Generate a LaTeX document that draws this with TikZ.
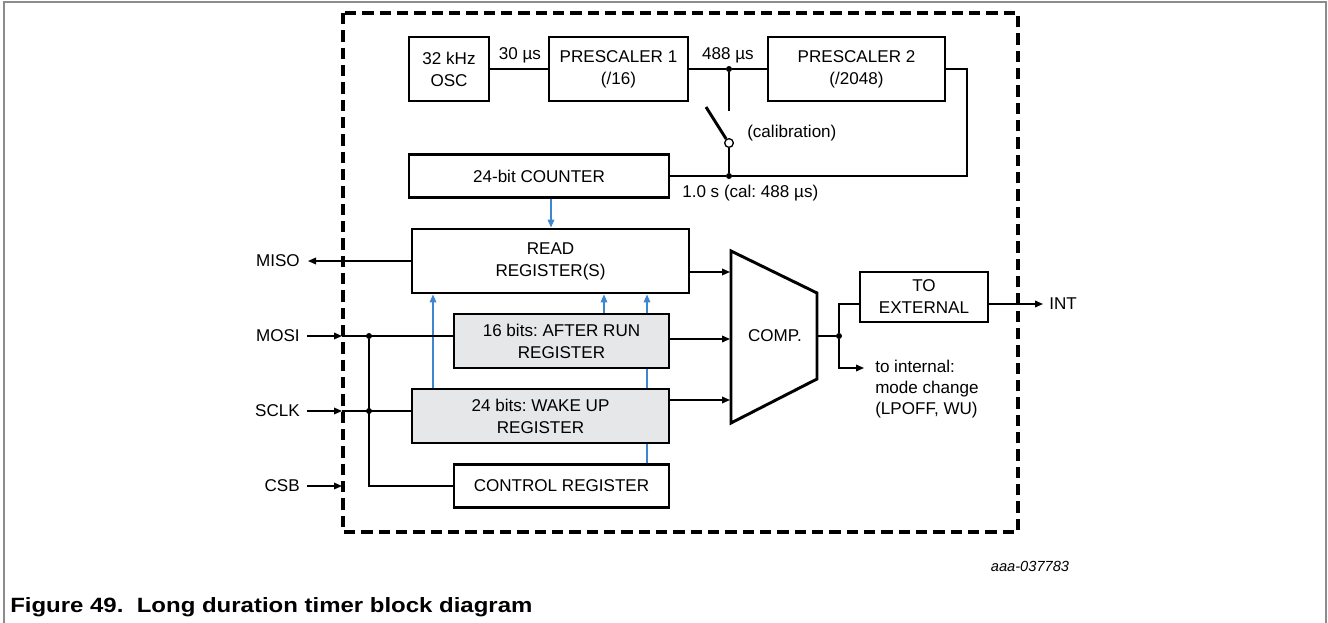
\documentclass[tikz,border=0pt]{standalone}
\usepackage{fontspec}
\setmainfont{Liberation Sans}
\usetikzlibrary{arrows.meta}
\definecolor{linkblue}{RGB}{62,134,208}
\definecolor{boxgray}{RGB}{230,231,232}
\definecolor{framegray}{RGB}{140,140,140}
\frenchspacing
\begin{document}
\begin{tikzpicture}[x=0.75pt,y=-0.75pt,
  lbl/.style={font=\fontsize{12.8}{16.5}\selectfont, inner sep=0pt},
  blk/.style={draw, line width=2.2pt, align=center, font=\fontsize{12.8}{16.5}\selectfont, inner sep=0pt},
  grayblk/.style={blk, fill=boxgray},
  wire/.style={line width=1pt},
  arr/.style={wire, -{Triangle[length=6pt,width=5pt]}},
  barr/.style={line width=1pt, linkblue, -{Triangle[length=6pt,width=5pt]}},
  bwire/.style={line width=1pt, linkblue},
  dot/.style={circle, fill, inner sep=0pt, minimum size=4.5pt},
]
\useasboundingbox (0,0) rectangle (1328,623);
% outer frame
\draw[framegray, line width=1.5pt] (4,623) -- (4,2) -- (1326,2) -- (1326,623);
% dashed chip boundary
\draw[line width=2.3pt, dash pattern=on 8.5pt off 4.5pt] (343,13) rectangle (1018,532);

% blocks
\node[blk, minimum width=80*0.75pt, minimum height=64*0.75pt] (osc) at (449,69) {32 kHz\\OSC};
\node[blk, minimum width=139*0.75pt, minimum height=64*0.75pt] (pre1) at (618.5,69) {PRESCALER 1\\(/16)};
\node[blk, minimum width=177*0.75pt, minimum height=64*0.75pt] (pre2) at (856.5,69) {PRESCALER 2\\(/2048)};
\node[blk, minimum width=260*0.75pt, minimum height=43*0.75pt] (counter) at (539,176) {24-bit COUNTER};
\node[blk, minimum width=277*0.75pt, minimum height=64*0.75pt] (read) at (550.5,261) {READ\\REGISTER(S)};
\node[grayblk, minimum width=215*0.75pt, minimum height=54*0.75pt] (after) at (561.5,341) {16 bits: AFTER RUN\\REGISTER};
\node[grayblk, minimum width=257*0.75pt, minimum height=54*0.75pt] (wake) at (540.5,416) {24 bits: WAKE UP\\REGISTER};
\node[blk, minimum width=215*0.75pt, minimum height=43*0.75pt] (ctrl) at (561.5,486) {CONTROL REGISTER};
\node[blk, minimum width=128*0.75pt, minimum height=50*0.75pt] (ext) at (924,297) {TO\\EXTERNAL};

% top chain
\draw[wire] (osc) -- (pre1);
\node[lbl, anchor=base] (l30) at (520,60) {30 µs};
\node[dot] (j1) at (729,69) {};
\draw[wire] (pre1) -- (j1) -- (pre2);
\node[lbl, anchor=base] (l488) at (728,60) {488 µs};
% calibration switch
\coordinate (swtop) at (729,111);
\node[circle, draw, fill=white, line width=1pt, inner sep=0pt, minimum size=6.5pt] (swc) at (729,143) {};
\node[dot] (j2) at (729,176) {};
\draw[wire] (j1) -- (swtop);
\draw[line width=2.2pt] (706,107) -- (swc.125);
\draw[wire] (swc) -- (j2);
\node[lbl, anchor=base west] (cal) at (747,138) {(calibration)};
% feedback from prescaler 2
\coordinate (fb1) at (967,69);
\coordinate (fb2) at (967,176);
\draw[wire] (pre2.east) -- (fb1) -- (fb2) -- (j2) -- (counter.east);
\node[lbl, anchor=base west] (l1s) at (682,198) {1.0 s (cal: 488 µs)};

% blue data paths
\coordinate (bx0) at (551,0);
\coordinate (bx1) at (433,0);
\coordinate (bx2) at (604,0);
\coordinate (bx3) at (647,0);
\draw[barr] (counter.south -| bx0) -- (read.north -| bx0);
\draw[barr] (wake.north -| bx1) -- (read.south -| bx1);
\draw[barr] (after.north -| bx2) -- (read.south -| bx2);
\draw[barr] (after.north -| bx3) -- (read.south -| bx3);
\draw[bwire] (wake.north -| bx3) -- (after.south -| bx3);
\draw[bwire] (ctrl.north -| bx3) -- (wake.south -| bx3);

% SPI pins
\coordinate (misoT) at (308,261);
\draw[arr] (read.west) -- (misoT);
\node[lbl, anchor=east] (miso) at (300,261) {MISO};

\coordinate (mosiS) at (307,336);
\coordinate (mosiE) at (342,336);
\draw[arr] (mosiS) -- (mosiE);
\draw[wire] (mosiE) -- (after.west |- mosiE);
\node[lbl, anchor=east] (mosi) at (300,336) {MOSI};

\coordinate (sclkS) at (307,411);
\coordinate (sclkE) at (342,411);
\draw[arr] (sclkS) -- (sclkE);
\draw[wire] (sclkE) -- (wake.west |- sclkE);
\node[lbl, anchor=east] (sclk) at (300,411) {SCLK};

\coordinate (csbS) at (307,486);
\coordinate (csbE) at (342,486);
\draw[arr] (csbS) -- (csbE);
\node[lbl, anchor=east] (csb) at (300,486) {CSB};

\node[dot] (jm) at (369,336) {};
\node[dot] (js) at (369,411) {};
\draw[wire] (jm) |- (ctrl.west);

% comparator
\coordinate (cA) at (731,251);
\coordinate (cB) at (817,293);
\coordinate (cC) at (817,379);
\coordinate (cD) at (731,423);
\draw[line width=2.2pt, line join=miter] (cA) -- (cB) -- (cC) -- (cD) -- cycle;
\node[lbl] (comp) at (775,336) {COMP.};
\coordinate (r1) at (730,272);
\coordinate (r2) at (730,339);
\coordinate (r3) at (730,400);
\draw[arr] (read.east |- r1) -- (r1);
\draw[arr] (after.east |- r2) -- (r2);
\draw[arr] (wake.east |- r3) -- (r3);

% output
\coordinate (cout) at (817,336);
\node[dot] (jc) at (839,336) {};
\coordinate (ey) at (0,304);
\draw[wire] (cout) -- (jc);
\draw[wire] (jc) |- (ext.west |- ey);
\coordinate (tiA) at (864,368);
\draw[arr] (jc) |- (tiA);
\node[lbl, anchor=west, align=left, font=\fontsize{12.8}{15.75}\selectfont] (ti) at (875,389) {to internal:\\mode change\\(LPOFF, WU)};
\coordinate (intA) at (1043,304);
\draw[arr] (ext.east |- ey) -- (intA);
\node[lbl, anchor=west] (int) at (1049,304) {INT};

% captions
\node[anchor=base, inner sep=0pt, font=\itshape\fontsize{11}{12}\selectfont] (code) at (1030,571) {aaa-037783};
\node[anchor=base west, inner sep=0pt, font=\bfseries\fontsize{15.5}{18}\selectfont] (cap) at (10,612) {\scalebox{1.16}[1]{Figure 49.\ \ Long duration timer block diagram}};
\end{tikzpicture}
\end{document}
